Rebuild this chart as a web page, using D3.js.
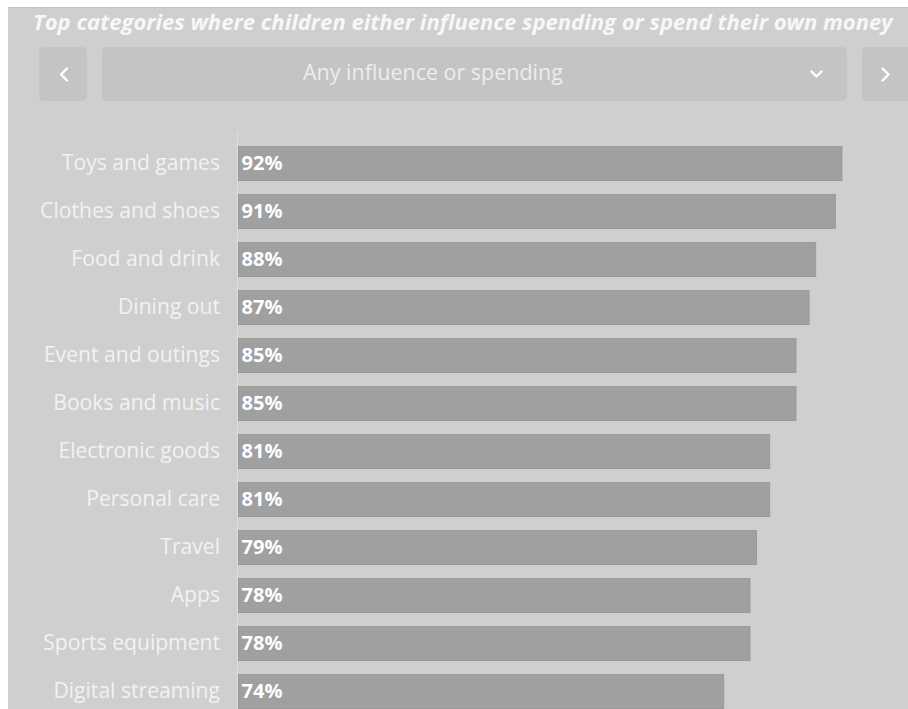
<!DOCTYPE html>
<html>
<head>
<meta charset="utf-8">
<script src="https://cdn.jsdelivr.net/npm/d3@7"></script>
<style>
  html, body { margin: 0; padding: 0; background: #ffffff; }
  svg { display: block; }
  text { font-family: "Open Sans", "Lato", sans-serif; }
</style>
</head>
<body>
<svg id="chart" width="908" height="709"></svg>
<script>
// Chart content
const titleText = "Top categories where children either influence spending or spend their own money";
const selectorLabel = "Any influence or spending";
const categories = [
  "Toys and games", "Clothes and shoes", "Food and drink", "Dining out",
  "Event and outings", "Books and music", "Electronic goods", "Personal care",
  "Travel", "Apps", "Sports equipment", "Digital streaming"
];
const shares = [92, 91, 88, 87, 85, 85, 81, 81, 79, 78, 78, 74];

const W = 908, H = 709;
const svg = d3.select("#chart");

// Panel background
svg.append("rect")
  .attr("x", 8).attr("y", 7).attr("width", W - 8).attr("height", H - 7)
  .attr("fill", "#cfcfcf");
svg.append("line")
  .attr("x1", 8).attr("x2", W).attr("y1", 7.5).attr("y2", 7.5)
  .attr("stroke", "#c2c2c2").attr("stroke-width", 1);

// Fit a text element's font size so it spans a given width
function fitWidth(sel, target) {
  const node = sel.node();
  const fs = parseFloat(sel.attr("font-size"));
  const w = node.getComputedTextLength();
  sel.attr("font-size", (fs * target / w).toFixed(2));
}

// Title
const title = svg.append("text")
  .attr("x", 33).attr("y", 30)
  .attr("font-size", 18).attr("font-weight", 700).attr("font-style", "italic")
  .attr("fill", "#f7f7f7")
  .text(titleText);
fitWidth(title, 860);

// Selector controls
const ctrl = svg.append("g");
const btnFill = "#c4c4c4";
ctrl.append("rect").attr("x", 39).attr("y", 47).attr("width", 48).attr("height", 54)
  .attr("rx", 5).attr("fill", btnFill);
ctrl.append("rect").attr("x", 102).attr("y", 47).attr("width", 745).attr("height", 54)
  .attr("rx", 5).attr("fill", btnFill);
ctrl.append("rect").attr("x", 862).attr("y", 47).attr("width", 60).attr("height", 54)
  .attr("rx", 5).attr("fill", btnFill);

const chevron = d3.line();
ctrl.append("path").attr("d", chevron([[67, 68.5], [61, 74.5], [67, 80.5]]))
  .attr("fill", "none").attr("stroke", "#ffffff").attr("stroke-width", 2.4)
  .attr("stroke-linecap", "round").attr("stroke-linejoin", "round");
ctrl.append("path").attr("d", chevron([[882.5, 68.5], [888.5, 74.5], [882.5, 80.5]]))
  .attr("fill", "none").attr("stroke", "#ffffff").attr("stroke-width", 2.4)
  .attr("stroke-linecap", "round").attr("stroke-linejoin", "round");
ctrl.append("path").attr("d", chevron([[811.5, 71.5], [816.5, 76.5], [821.5, 71.5]]))
  .attr("fill", "none").attr("stroke", "#ffffff").attr("stroke-width", 2.4)
  .attr("stroke-linecap", "round").attr("stroke-linejoin", "round");

const sel = ctrl.append("text")
  .attr("x", 303).attr("y", 80)
  .attr("font-size", 19).attr("font-weight", 400)
  .attr("fill", "#ededed")
  .text(selectorLabel);
fitWidth(sel, 260);

// Scales
const x = d3.scaleLinear().domain([0, 100]).range([238, 895]);
const y = d3.scaleBand()
  .domain(categories)
  .range([139.5, 715.5])
  .paddingInner(13 / 48)
  .paddingOuter(6.5 / 48);

// Baseline
svg.append("line")
  .attr("x1", x(0) - 0.5).attr("x2", x(0) - 0.5)
  .attr("y1", 132).attr("y2", H)
  .attr("stroke", "#dddddd").attr("stroke-width", 1);

// Bars
const rows = categories.map((c, i) => ({ cat: c, v: shares[i] }));
svg.append("g").selectAll("rect").data(rows).join("rect")
  .attr("x", x(0) + 0.5)
  .attr("y", d => y(d.cat) + 0.5)
  .attr("width", d => x(d.v) - x(0) - 1)
  .attr("height", y.bandwidth() - 1)
  .attr("fill", "#a0a0a0")
  .attr("stroke", "#9a9a9a").attr("stroke-width", 1);

// Category labels
const catLabels = svg.append("g").selectAll("text").data(rows).join("text")
  .attr("x", 220)
  .attr("y", d => y(d.cat) + y.bandwidth() / 2 + 6)
  .attr("text-anchor", "end")
  .attr("font-size", 19).attr("font-weight", 400)
  .attr("fill", "#f2f2f2")
  .text(d => d.cat);
// size the labels so the widest one spans its column
{
  const ref = catLabels.filter(d => d.cat === "Clothes and shoes");
  const w = ref.node().getComputedTextLength();
  catLabels.attr("font-size", (19 * 180 / w).toFixed(2));
}

// Value labels
const valLabels = svg.append("g").selectAll("text").data(rows).join("text")
  .attr("x", x(0) + 3.5)
  .attr("y", d => y(d.cat) + y.bandwidth() / 2 + 6)
  .attr("font-size", 17).attr("font-weight", 700)
  .attr("fill", "#ffffff")
  .text(d => d.v + "%");
{
  const w = valLabels.node().getComputedTextLength();
  valLabels.attr("font-size", (17 * 41 / w).toFixed(2));
}
</script>
</body>
</html>
